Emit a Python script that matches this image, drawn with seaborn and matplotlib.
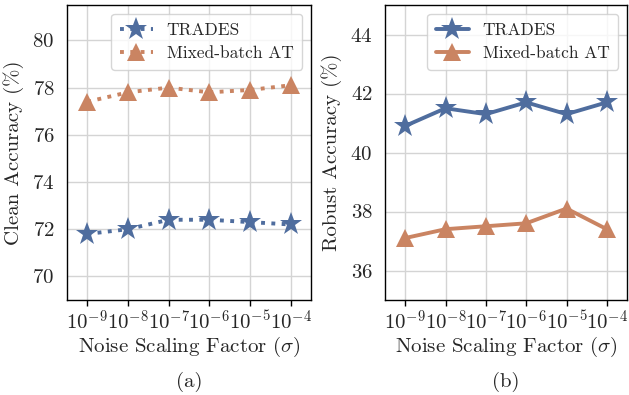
import matplotlib
matplotlib.use("Agg")
import matplotlib.pyplot as plt
import seaborn as sns
import pandas as pd

# Data
sigma_labels = [r"$10^{-9}$", r"$10^{-8}$", r"$10^{-7}$", r"$10^{-6}$", r"$10^{-5}$", r"$10^{-4}$"]
methods = ["TRADES", "Mixed-batch AT"]

clean_trades = [71.8, 72.0, 72.4, 72.4, 72.3, 72.2]
clean_mixed = [77.4, 77.8, 78.0, 77.8, 77.9, 78.1]

robust_trades = [40.9, 41.5, 41.3, 41.7, 41.3, 41.7]
robust_mixed = [37.1, 37.4, 37.5, 37.6, 38.1, 37.4]


def make_frame(trades, mixed):
    rows = []
    for i in range(len(sigma_labels)):
        rows.append({"x": i, "method": methods[0], "acc": trades[i]})
        rows.append({"x": i, "method": methods[1], "acc": mixed[i]})
    return pd.DataFrame(rows)


sns.set_theme(style="whitegrid")
plt.rcParams["font.family"] = ["cmr10"]
plt.rcParams["mathtext.fontset"] = "cm"
plt.rcParams["axes.formatter.use_mathtext"] = True
plt.rcParams["axes.edgecolor"] = "black"
plt.rcParams["grid.color"] = "#d4d4d4"

colors = {"TRADES": "#4F6D9E", "Mixed-batch AT": "#CA8462"}
markers = {"TRADES": "*", "Mixed-batch AT": "^"}
msizes = {"TRADES": 17, "Mixed-batch AT": 13}

fig = plt.figure(figsize=(6.29, 3.95), dpi=100)
ax1 = fig.add_axes([67 / 629, 95 / 395, 244 / 629, 295 / 395])
ax2 = fig.add_axes([385 / 629, 95 / 395, 242 / 629, 295 / 395])


def draw(ax, df, linestyle, ylabel, ylim, yticks):
    sns.lineplot(data=df, x="x", y="acc", hue="method", style="method",
                 markers=markers, dashes=False, palette=colors,
                 linewidth=2.8, markeredgewidth=0, ax=ax)
    for line, m in zip(ax.get_lines(), methods):
        line.set_linestyle(linestyle)
        line.set_markersize(msizes[m])
    ax.set_xlim(-0.5, 5.5)
    ax.set_ylim(*ylim)
    ax.set_yticks(yticks)
    ax.set_xticks(range(len(sigma_labels)))
    ax.set_xticklabels(sigma_labels)
    ax.set_xlabel(r"Noise Scaling Factor ($\sigma$)", fontsize=15, labelpad=1)
    ax.set_ylabel(ylabel, fontsize=15, labelpad=6)
    ax.tick_params(labelsize=15, pad=3)
    ax.tick_params(axis="x", length=4, width=1, color="black", bottom=True)
    for s in ax.spines.values():
        s.set_color("black")
        s.set_linewidth(1.0)
    handles, labels = ax.get_legend_handles_labels()
    for h, m in zip(handles, methods):
        h.set_linestyle(linestyle)
        h.set_markersize(msizes[m])
    ax.legend(handles, labels, loc="upper right", fontsize=12.5,
              frameon=True, handlelength=1.9, borderpad=0.5,
              labelspacing=0.45, handletextpad=0.8)


draw(ax1, make_frame(clean_trades, clean_mixed), ":", "Clean Accuracy (%)",
     (69, 81.5), [70, 72, 74, 76, 78, 80])
draw(ax2, make_frame(robust_trades, robust_mixed), "-", "Robust Accuracy (%)",
     (35, 45), [36, 38, 40, 42, 44])

fig.text(ax1.get_position().x0 + ax1.get_position().width / 2, 13 / 395, "(a)",
         ha="center", va="center", fontsize=15)
fig.text(ax2.get_position().x0 + ax2.get_position().width / 2, 13 / 395, "(b)",
         ha="center", va="center", fontsize=15)

fig.savefig("out.png", dpi=100)
